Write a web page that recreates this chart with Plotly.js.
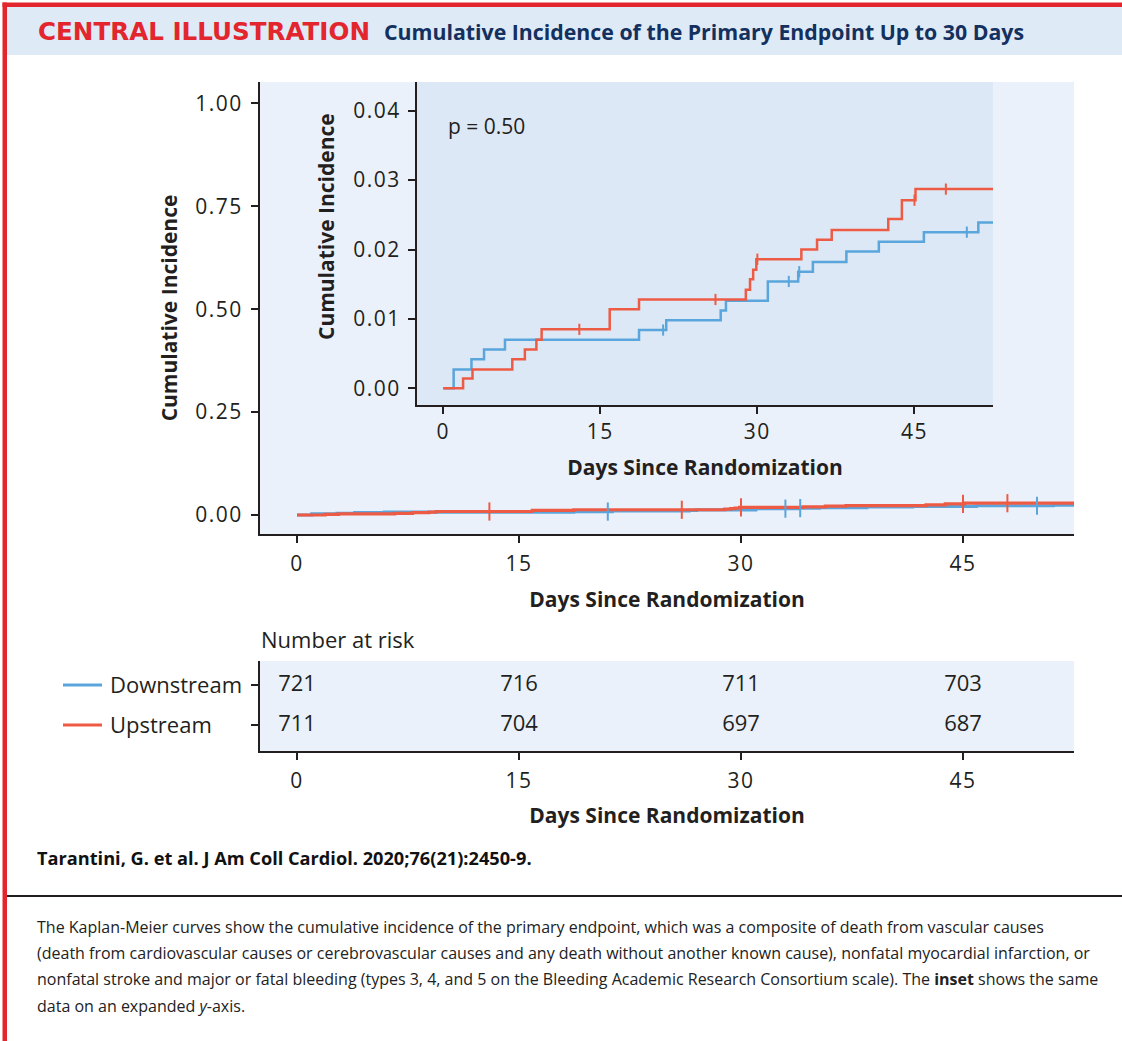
<!DOCTYPE html>
<html>
<head>
<meta charset="utf-8">
<script src="https://cdn.plot.ly/plotly-3.0.1.min.js"></script>
<style>
  html, body { margin: 0; padding: 0; background: #ffffff; }
  #chart { width: 1122px; height: 1041px; }
  .xtick text, .ytick text, .x2tick text, .y2tick text, .x3tick text { letter-spacing: 1.5px; }
</style>
</head>
<body>
<div id="chart"></div>
<script>
// ---------- DATA ----------
const downDays = [0, 1.0, 2.7, 3.9, 5.9, 18.7, 21.3, 26.5, 27.0, 31.0, 33.9, 35.3, 38.5, 41.6, 45.9, 51.1, 52.5];
const downInc  = [0, 0.0027, 0.0042, 0.0056, 0.0070, 0.0084, 0.0098, 0.0112, 0.0126, 0.0154, 0.0168, 0.0182, 0.0197, 0.0211, 0.0225, 0.0239, 0.0239];
const upDays   = [0, 1.9, 2.8, 6.6, 7.8, 8.9, 9.4, 15.9, 18.7, 28.9, 29.3, 29.6, 29.9, 34.2, 35.7, 37.1, 42.5, 43.8, 45.1, 52.5];
const upInc    = [0, 0.0014, 0.0027, 0.0042, 0.0056, 0.0070, 0.0085, 0.0114, 0.0128, 0.0142, 0.0157, 0.0171, 0.0186, 0.0200, 0.0214, 0.0228, 0.0244, 0.0271, 0.0287, 0.0287];
const downCensor = [21, 33, 34, 50];
const upCensor   = [13, 26, 30, 45, 48];

const riskDays = [0, 15, 30, 45];
const riskDown = [721, 716, 711, 703];
const riskUp   = [711, 704, 697, 687];
const groups   = ["Downstream", "Upstream"];

const dayTicks    = [0, 15, 30, 45];
const mainYTicks  = [0, 0.25, 0.5, 0.75, 1.0];
const insetYTicks = [0, 0.01, 0.02, 0.03, 0.04];
const pValueText  = "p = 0.50";

const captionLines = [
  "The Kaplan-Meier curves show the cumulative incidence of the primary endpoint, which was a composite of death from vascular causes",
  "(death from cardiovascular causes or cerebrovascular causes and any death without another known cause), nonfatal myocardial infarction, or",
  "nonfatal stroke and major or fatal bleeding (types 3, 4, and 5 on the Bleeding Academic Research Consortium scale). The <b>inset</b> shows the same",
  "data on an expanded <i>y</i>-axis."
];

// ---------- STYLE ----------
const W = 1122, H = 1041;
const BLUE = "#5AA5DB", RED = "#EE5B45", INK = "#231F20";
const NAVY = "#13305E", HRED = "#E3262D";
const px = x => x / W;
const py = y => 1 - y / H;
const TICKFONT  = { family: "Open Sans, sans-serif", size: 21, color: INK };
const TITLEFONT = { family: "Open Sans, sans-serif", size: 21, color: INK, weight: 700 };

function stepAt(days, vals, t) {
  let v = vals[0];
  for (let i = 0; i < days.length; i++) if (days[i] <= t) v = vals[i];
  return v;
}

function curves(xa, ya, lw, ms) {
  return [
    { x: downDays, y: downInc, xaxis: xa, yaxis: ya, mode: "lines", line: { shape: "hv", color: BLUE, width: lw }, name: groups[0], showlegend: false, hoverinfo: "skip" },
    { x: upDays, y: upInc, xaxis: xa, yaxis: ya, mode: "lines", line: { shape: "hv", color: RED, width: lw }, name: groups[1], showlegend: false, hoverinfo: "skip" },
    { x: downCensor, y: downCensor.map(t => stepAt(downDays, downInc, t)), xaxis: xa, yaxis: ya, mode: "markers",
      marker: { symbol: "line-ns", size: ms, line: { color: BLUE, width: 2 } }, showlegend: false, hoverinfo: "skip" },
    { x: upCensor, y: upCensor.map(t => stepAt(upDays, upInc, t)), xaxis: xa, yaxis: ya, mode: "markers",
      marker: { symbol: "line-ns", size: ms, line: { color: RED, width: 2 } }, showlegend: false, hoverinfo: "skip" }
  ];
}

const riskTrace = {
  x: riskDays.concat(riskDays),
  y: riskDays.map(() => 1).concat(riskDays.map(() => 0)),
  text: riskDown.concat(riskUp).map(String),
  mode: "text", xaxis: "x3", yaxis: "y3",
  textfont: { family: "Open Sans, sans-serif", size: 22, color: INK },
  textposition: "middle center", showlegend: false, hoverinfo: "skip"
};

const data = [].concat(curves("x", "y", 3.2, 13), curves("x2", "y2", 2.5, 8), [riskTrace]);

const axisCommon = {
  showgrid: false, zeroline: false, showline: true, linecolor: INK, linewidth: 2,
  ticks: "outside", ticklen: 7, tickwidth: 2, tickcolor: INK, tickfont: TICKFONT, fixedrange: true
};

const annotations = [
  { text: "<b>CENTRAL ILLUSTRATION</b>", xref: "paper", yref: "paper", x: px(36), y: py(32), xanchor: "left", yanchor: "middle", showarrow: false,
    font: { family: "DejaVu Sans, sans-serif", size: 24.6, color: HRED } },
  { text: "<b>Cumulative Incidence of the Primary Endpoint Up to 30 Days</b>", xref: "paper", yref: "paper", x: px(382), y: py(32), xanchor: "left", yanchor: "middle", showarrow: false,
    font: { family: "Open Sans, sans-serif", size: 21.3, color: NAVY } },
  { text: pValueText, xref: "x2 domain", yref: "paper", x: (446 - 417) / 576, y: py(126), xanchor: "left", yanchor: "middle", showarrow: false,
    font: { family: "Open Sans, sans-serif", size: 21, color: INK } },
  { text: "<b>Cumulative Incidence</b>", xref: "paper", yref: "paper", x: px(326), y: py(227), xanchor: "center", yanchor: "middle", textangle: -90, showarrow: false,
    font: TITLEFONT },
  { text: "Number at risk", xref: "paper", yref: "paper", x: px(259), y: py(639), xanchor: "left", yanchor: "middle", showarrow: false,
    font: { family: "Open Sans, sans-serif", size: 22, color: INK } },
  { text: groups[0], xref: "paper", yref: "y3", x: px(108), y: 1, xanchor: "left", yanchor: "middle", yshift: 1, showarrow: false,
    font: { family: "Open Sans, sans-serif", size: 22, color: INK } },
  { text: groups[1], xref: "paper", yref: "y3", x: px(108), y: 0, xanchor: "left", yanchor: "middle", yshift: 1, showarrow: false,
    font: { family: "Open Sans, sans-serif", size: 22, color: INK } },
  { text: "<b>Tarantini, G. et al. J Am Coll Cardiol. 2020;76(21):2450-9.</b>", xref: "paper", yref: "paper", x: px(35), y: py(858), xanchor: "left", yanchor: "middle", showarrow: false,
    font: { family: "Open Sans, sans-serif", size: 18.2, color: "#111111" } }
];
const captionY = [927, 953, 979, 1006];
captionLines.forEach((t, i) => annotations.push({
  text: t, xref: "paper", yref: "paper", x: px(35), y: py(captionY[i]), xanchor: "left", yanchor: "middle", align: "left", showarrow: false,
  font: { family: "Open Sans, sans-serif", size: 16, color: "#222222" }
}));

const layout = {
  width: W, height: H, autosize: false,
  margin: { l: 0, r: 0, t: 0, b: 0, pad: 0 },
  paper_bgcolor: "#ffffff", plot_bgcolor: "rgba(0,0,0,0)",
  showlegend: false,
  xaxis: Object.assign({}, axisCommon, {
    domain: [px(260), px(1074)], range: [-2.5, 52.5], anchor: "y",
    tickvals: dayTicks, ticklabelstandoff: 3,
    title: { text: "Days Since Randomization", font: TITLEFONT, standoff: 16 }
  }),
  yaxis: Object.assign({}, axisCommon, {
    domain: [py(534), py(82)], range: [-0.0461, 1.0517], anchor: "x",
    tickvals: mainYTicks, tickformat: ".2f", ticklabelstandoff: 4,
    title: { text: "Cumulative Incidence", font: TITLEFONT, standoff: 12 }
  }),
  xaxis2: Object.assign({}, axisCommon, {
    domain: [px(417), px(993)], range: [-2.5, 52.5], anchor: "y2",
    tickvals: dayTicks,
    title: { text: "Days Since Randomization", font: TITLEFONT, standoff: 16 }
  }),
  yaxis2: Object.assign({}, axisCommon, {
    domain: [py(405), py(82)], range: [-0.0024, 0.04413], anchor: "x2",
    tickvals: insetYTicks, tickformat: ".2f", ticklabelstandoff: 3
  }),
  xaxis3: Object.assign({}, axisCommon, {
    domain: [px(260), px(1074)], range: [-2.5, 52.5], anchor: "y3",
    tickvals: dayTicks, ticklabelstandoff: 3,
    title: { text: "Days Since Randomization", font: TITLEFONT, standoff: 15 }
  }),
  yaxis3: Object.assign({}, axisCommon, {
    domain: [py(751), py(661)], range: [-0.65, 1.6], anchor: "x3",
    tickvals: [0, 1], showticklabels: false, ticklen: 7
  }),
  shapes: [
    { type: "rect", xref: "paper", yref: "paper", x0: px(2.5), x1: 1, y0: py(7), y1: py(2.5), fillcolor: HRED, line: { width: 0 }, layer: "below" },
    { type: "rect", xref: "paper", yref: "paper", x0: px(2.5), x1: px(7), y0: 0, y1: py(2.5), fillcolor: HRED, line: { width: 0 }, layer: "below" },
    { type: "rect", xref: "paper", yref: "paper", x0: px(7), x1: 1, y0: py(55), y1: py(7), fillcolor: "#DEEAF6", line: { width: 0 }, layer: "below" },
    { type: "rect", xref: "paper", yref: "paper", x0: px(260), x1: px(1074), y0: py(534), y1: py(82), fillcolor: "#EAF1FA", line: { width: 0 }, layer: "below" },
    { type: "rect", xref: "paper", yref: "paper", x0: px(417), x1: px(993), y0: py(405), y1: py(82), fillcolor: "#DCE8F5", line: { width: 0 }, layer: "below" },
    { type: "rect", xref: "paper", yref: "paper", x0: px(260), x1: px(1074), y0: py(751), y1: py(661), fillcolor: "#EAF1FA", line: { width: 0 }, layer: "below" },
    { type: "line", xref: "paper", yref: "y3", x0: px(63), x1: px(102), y0: 1, y1: 1, line: { color: BLUE, width: 3 } },
    { type: "line", xref: "paper", yref: "y3", x0: px(63), x1: px(102), y0: 0, y1: 0, line: { color: RED, width: 3 } },
    { type: "line", xref: "paper", yref: "paper", x0: px(7), x1: 1, y0: py(896), y1: py(896), line: { color: INK, width: 2 } }
  ],
  annotations: annotations
};

Plotly.newPlot("chart", data, layout, { staticPlot: true, displayModeBar: false });
</script>
</body>
</html>
